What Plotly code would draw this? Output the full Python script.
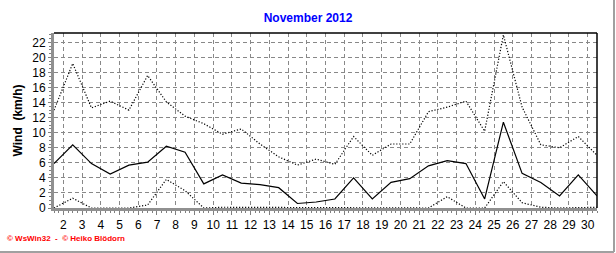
import plotly.graph_objects as go

days = [d + 1.5 for d in range(30)]
wind_max = [13.0, 19.2, 13.3, 14.2, 13.0, 17.6, 14.1, 12.2, 11.2, 9.8,
            10.5, 8.5, 6.8, 5.7, 6.5, 5.8, 9.5, 7.0, 8.5, 8.5,
            12.8, 13.4, 14.2, 10.2, 23.0, 13.4, 8.4, 8.0, 9.5, 7.0]
wind_mean = [5.9, 8.4, 5.9, 4.5, 5.7, 6.1, 8.2, 7.4, 3.2, 4.4,
             3.3, 3.1, 2.7, 0.6, 0.8, 1.2, 4.0, 1.2, 3.4, 3.9,
             5.6, 6.3, 5.9, 1.2, 11.4, 4.6, 3.4, 1.6, 4.4, 1.6]
wind_min = [0.0, 1.3, 0.0, 0.0, 0.0, 0.4, 3.8, 2.3, 0.0, 0.1,
            0.1, 0.0, 0.0, 0.0, 0.0, 0.0, 0.0, 0.0, 0.0, 0.0,
            0.0, 1.5, 0.0, 0.0, 3.5, 0.7, 0.1, 0.0, 0.1, 0.1]
x_ticks = list(range(2, 31))
y_ticks = list(range(0, 23, 2))

L, R, T, B = 54, 19, 33, 45
W, H = 616, 253
PW, PH = W - L - R, H - T - B


def px(x):
    return (x - L) / PW


def py(y):
    return (H - B - y) / PH


fig = go.Figure()
fig.add_trace(go.Scatter(x=days, y=wind_max, mode="lines",
                         line=dict(color="black", width=1.2, dash="1.2px,1.8px")))
fig.add_trace(go.Scatter(x=days, y=wind_mean, mode="lines",
                         line=dict(color="black", width=1.2)))
fig.add_trace(go.Scatter(x=days, y=wind_min, mode="lines",
                         line=dict(color="black", width=1.2, dash="1.2px,1.8px")))

font = "Liberation Sans, Arial, sans-serif"
fig.update_layout(
    width=W, height=H,
    margin=dict(l=L, r=R, t=T, b=B),
    paper_bgcolor="white", plot_bgcolor="white",
    showlegend=False,
    title=dict(text="<b>November 2012</b>", x=0.5, xanchor="center",
               y=1 - 18 / H, yanchor="middle",
               font=dict(family=font, size=12, color="#0000ff")),
    font=dict(family=font, size=12, color="black"),
)
fig.update_xaxes(
    range=[1.5, 30.5], tickmode="array", tickvals=x_ticks,
    ticktext=[str(v) for v in x_ticks],
    showgrid=True, gridcolor="#888888", griddash="4px,3px", gridwidth=1,
    showline=True, linecolor="#909090", linewidth=3,
    ticks="outside", ticklen=4, tickcolor="#808080",
    minor=dict(ticks="outside", dtick=0.25, ticklen=2, tickcolor="#808080", showgrid=False),
    tickfont=dict(size=12), zeroline=False, fixedrange=True,
)
fig.update_yaxes(
    range=[0, 23.25], tickmode="array", tickvals=y_ticks,
    ticktext=[str(v) for v in y_ticks],
    showgrid=True, gridcolor="#888888", griddash="4px,3px", gridwidth=1,
    showline=True, linecolor="#909090", linewidth=3,
    ticks="outside", ticklen=3, tickcolor="#808080",
    minor=dict(ticks="outside", dtick=0.5, ticklen=2, tickcolor="#808080", showgrid=False),
    title=dict(text="<b>Wind  (km/h)</b>", font=dict(size=12), standoff=8),
    zeroline=False, fixedrange=True,
)
# top and right frame lines
fig.add_shape(type="line", xref="paper", yref="paper", x0=0, x1=1, y0=1, y1=1,
              line=dict(color="black", width=1.5))
fig.add_shape(type="line", xref="paper", yref="paper", x0=1, x1=1, y0=0, y1=1,
              line=dict(color="black", width=1.5))
# outer gray border (right and bottom)
fig.add_shape(type="line", xref="paper", yref="paper",
              x0=px(614), x1=px(614), y0=py(252), y1=py(0),
              line=dict(color="#a0a0a0", width=2))
fig.add_shape(type="line", xref="paper", yref="paper",
              x0=px(0), x1=px(614), y0=py(252), y1=py(252),
              line=dict(color="#a0a0a0", width=2))
fig.add_annotation(text="<b>\u00a9 WsWin32  -  \u00a9 Heiko Blödorn</b>", xref="paper", yref="paper",
                   x=px(5), xanchor="left",
                   y=py(239), yanchor="middle",
                   showarrow=False, font=dict(family=font, size=8, color="#ff0000"))

fig.write_html("out.html")
